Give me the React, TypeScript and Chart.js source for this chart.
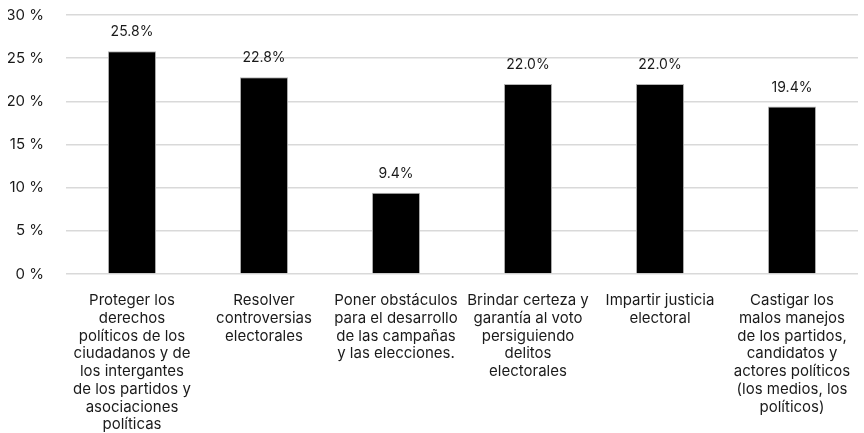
import React, { useEffect, useRef } from "react";
import { Chart, registerables } from "chart.js";

Chart.register(...registerables);

const categories: string[][] = [
  ["Proteger los", "derechos", "políticos de los", "ciudadanos y de", "los intergantes", "de los partidos y", "asociaciones", "políticas"],
  ["Resolver", "controversias", "electorales"],
  ["Poner obstáculos", "para el desarrollo", "de las campañas", "y las elecciones."],
  ["Brindar certeza y", "garantía al voto", "persiguiendo", "delitos", "electorales"],
  ["Impartir justicia", "electoral"],
  ["Castigar los", "malos manejos", "de los partidos,", "candidatos y", "actores políticos", "(los medios, los", "políticos)"],
];
const values: number[] = [25.8, 22.8, 9.4, 22.0, 22.0, 19.4];
const valueLabels: string[] = ["25.8%", "22.8%", "9.4%", "22.0%", "22.0%", "19.4%"];
const yMin = 0;
const yMax = 30;
const yStep = 5;

const FONT = "Inter, 'Open Sans', sans-serif";
const TEXT = "#1a1a1a";

const valueLabelPlugin = {
  id: "valueLabels",
  afterDatasetsDraw(chart: any) {
    const ctx = chart.ctx;
    const meta = chart.getDatasetMeta(0);
    ctx.save();
    ctx.font = `14px ${FONT}`;
    ctx.fillStyle = TEXT;
    ctx.textAlign = "center";
    ctx.textBaseline = "middle";
    meta.data.forEach((bar: any, i: number) => {
      ctx.fillText(valueLabels[i], bar.x, bar.y - 19);
    });
    ctx.restore();
  },
};

export default function App() {
  const ref = useRef<HTMLCanvasElement | null>(null);
  useEffect(() => {
    if (!ref.current) return;
    const chart = new Chart(ref.current, {
      type: "bar",
      data: {
        labels: categories,
        datasets: [
          {
            data: values,
            backgroundColor: "#000000",
            borderColor: "#b5b5b5",
            borderWidth: 1,
            barPercentage: 0.365,
            categoryPercentage: 1,
          },
        ],
      },
      options: {
        responsive: false,
        animation: false,
        layout: { padding: { left: 8, right: 6, top: 15, bottom: 0 } },
        plugins: { legend: { display: false }, tooltip: { enabled: false } },
        scales: {
          x: {
            grid: { display: false, drawTicks: true, tickLength: 18 },
            border: { display: false },
            ticks: {
              color: TEXT,
              font: { family: FONT, size: 15, lineHeight: 1.18 },
              maxRotation: 0,
              autoSkip: false,
              padding: 0,
            },
            afterFit: (scale: any) => {
              scale.height = 159;
            },
          },
          y: {
            min: yMin,
            max: yMax,
            border: { display: false },
            grid: {
              color: "#d9d9d9",
              lineWidth: 1.5,
              drawTicks: true,
              tickLength: 22,
              tickColor: "rgba(0,0,0,0)",
            },
            ticks: {
              stepSize: yStep,
              color: TEXT,
              font: { family: FONT, size: 15 },
              padding: 0,
              callback: (v: any) => `${v} %`,
            },
            afterFit: (scale: any) => {
              scale.width = 58;
            },
          },
        },
      },
      plugins: [valueLabelPlugin],
    });
    return () => chart.destroy();
  }, []);
  return (
    <div style={{ position: "fixed", left: 0, top: 0, width: 864, height: 433, background: "#fff" }}>
      <canvas ref={ref} width={864} height={433} />
    </div>
  );
}
